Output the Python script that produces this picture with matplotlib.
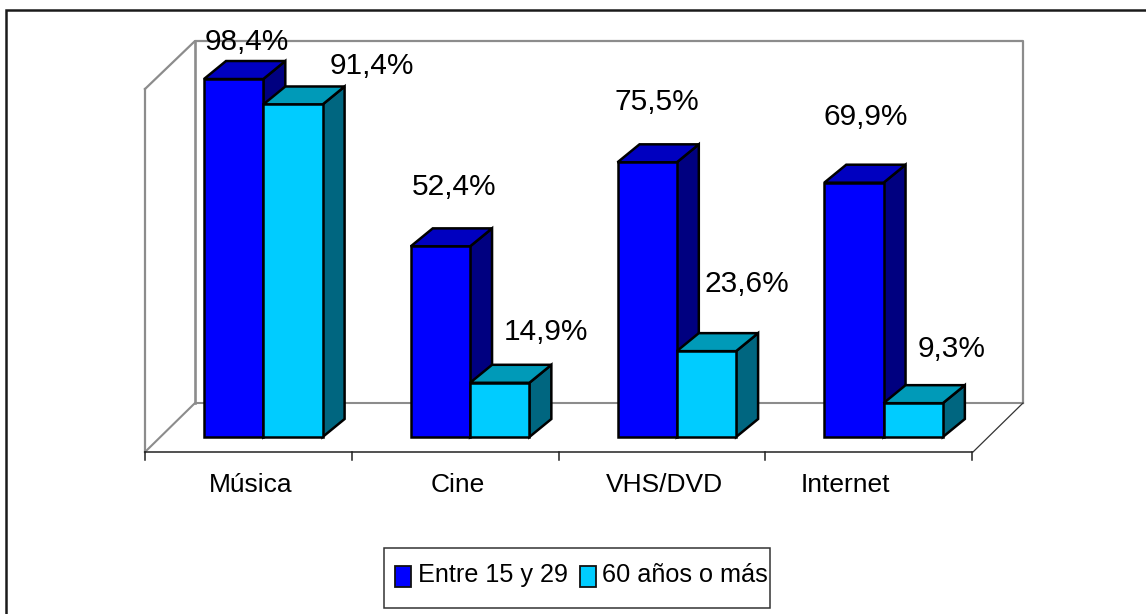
import matplotlib
matplotlib.use("Agg")
import matplotlib.pyplot as plt
from matplotlib.patches import Polygon, Rectangle

plt.rcParams['font.family'] = ['Liberation Sans', 'DejaVu Sans']

# Data
categories = ["Música", "Cine", "VHS/DVD", "Internet"]
series_names = ["Entre 15 y 29", "60 años o más"]
young = [98.4, 52.4, 75.5, 69.9]
old = [91.4, 14.9, 23.6, 9.3]
young_labels = ["98,4%", "52,4%", "75,5%", "69,9%"]
old_labels = ["91,4%", "14,9%", "23,6%", "9,3%"]

# Colours: front, top, side
young_cols = ("#0000ff", "#0000c0", "#000080")
old_cols = ("#00ccff", "#009ab8", "#006680")
wall = "#8c8c8c"

W, H = 1146, 614
fig = plt.figure(figsize=(W / 100, H / 100), dpi=100)

# Chrome axes in pixel units (frame, walls, legend)
bg = fig.add_axes([0, 0, 1, 1])
bg.set_xlim(0, W)
bg.set_ylim(H, 0)
bg.axis("off")

# Outer frame only shows on top and left
bg.plot([6, 6, W], [H, 10, 10], color="#1a1a1a", lw=1.8, solid_joinstyle="miter")

# Back wall and floor
bg.plot([145, 195, 1023, 1023], [89, 41, 41, 403], color=wall, lw=1.6)
bg.plot([195, 195], [41, 403], color=wall, lw=1.9)
bg.plot([145, 195, 1023], [452, 403, 403], color=wall, lw=1.5)
bg.plot([145, 145], [89, 452], color=wall, lw=1.6)
bg.plot([973, 1023], [452, 403], color="#333333", lw=0.9)

# Bars axes: x in category slots, y in percent
px_x = 206.75  # pixels per category
px_y = 3.638   # pixels per percent
ax = fig.add_axes([0, 0, 1, 1])
ax.patch.set_alpha(0)
ax.axis("off")
ax.set_xlim(-145 / px_x, (W - 145) / px_x)
ax.set_ylim((437 - H) / px_y, 437 / px_y)

bar_w = 59.3 / px_x
dx = 22 / px_x
dy = 18 / px_y
bar_start = 59 / px_x


def bar3d(x, h, cols, z):
    front = [(x, 0), (x + bar_w, 0), (x + bar_w, h), (x, h)]
    top = [(x, h), (x + bar_w, h), (x + bar_w + dx, h + dy), (x + dx, h + dy)]
    side = [(x + bar_w, 0), (x + bar_w + dx, dy), (x + bar_w + dx, h + dy), (x + bar_w, h)]
    for pts, c in zip((side, top, front), (cols[2], cols[1], cols[0])):
        ax.add_patch(Polygon(pts, closed=True, facecolor=c, edgecolor="black",
                             lw=1.8, joinstyle="miter", zorder=z))


for i in range(len(categories)):
    x0 = i + bar_start
    bar3d(x0, young[i], young_cols, 3)
    bar3d(x0 + bar_w, old[i], old_cols, 4)

# Category axis with ticks between groups
ax.plot([0, len(categories)], [-15 / px_y, -15 / px_y], color="#222222", lw=1.1, zorder=2)
for i in range(len(categories) + 1):
    ax.plot([i, i], [-15 / px_y, -23 / px_y], color="#222222", lw=1.1, zorder=2)

label_font = 19
label_shift = [2, 3, 3, -23]  # pixels off the slot centre
for i, name in enumerate(categories):
    ax.annotate(name, (i + 0.5, 0), xytext=(label_shift[i] * 0.72, -48 * 0.72),
                textcoords="offset points", ha="center", va="center",
                fontsize=label_font, color="black")

# Value labels, offsets from each bar's top centre, in pixels
young_off = [(13, -37), (14, -59), (10, -60), (12, -66)]
old_off = [(79, -38), (46, -51), (40, -67), (38, -54)]
for i in range(len(categories)):
    x0 = i + bar_start
    for h, txt, off, xc in ((young[i], young_labels[i], young_off[i], x0 + bar_w / 2),
                            (old[i], old_labels[i], old_off[i], x0 + bar_w * 1.5)):
        ax.annotate(txt, (xc, h), xytext=(off[0] * 0.72, -off[1] * 0.72),
                    textcoords="offset points", ha="center", va="center",
                    fontsize=21.5, color="black", zorder=6)

# Legend
bg.add_patch(Rectangle((384, 548), 386, 60, facecolor="white", edgecolor="#333333", lw=1.1))
for x, c in ((394.5, young_cols[0]), (579.5, old_cols[0])):
    bg.add_patch(Rectangle((x, 566), 16, 21, facecolor=c, edgecolor="#111111", lw=1.3))
bg.text(418, 575, series_names[0], fontsize=18.2, va="center", ha="left", color="black")
bg.text(602, 575, series_names[1], fontsize=18.2, va="center", ha="left", color="black")

fig.savefig("out.png", dpi=100)
